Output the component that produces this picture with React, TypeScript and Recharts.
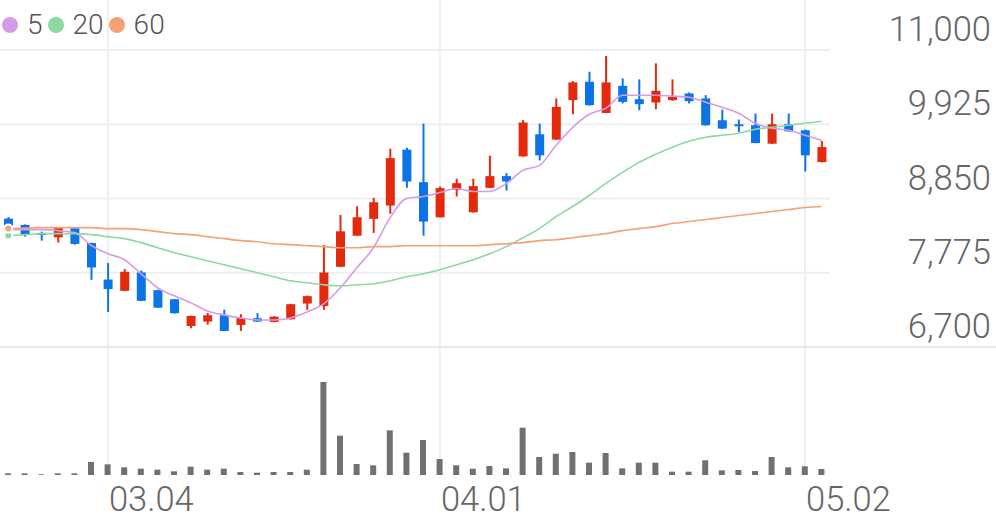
import { Bar, ComposedChart, Line, ReferenceLine, XAxis, YAxis } from 'recharts';

const dates = [
  '02.21', '02.24', '02.25', '02.26', '02.27', '02.28', '03.04', '03.05', '03.06', '03.07',
  '03.10', '03.11', '03.12', '03.13', '03.14', '03.17', '03.18', '03.19', '03.20', '03.21',
  '03.24', '03.25', '03.26', '03.27', '03.28', '03.31', '04.01', '04.02', '04.03', '04.04',
  '04.07', '04.08', '04.09', '04.10', '04.11', '04.14', '04.15', '04.16', '04.17', '04.18',
  '04.21', '04.22', '04.23', '04.24', '04.25', '04.28', '04.29', '04.30', '05.02', '05.07',
];

const opens = [
  8559, 8467, 8352, 8288, 8419, 8206, 7677, 7513, 7779, 7523,
  7392, 7005, 7068, 7160, 7020, 7117, 7063, 7102, 7329, 7295,
  7862, 8312, 8555, 8748, 9557, 9087, 8578, 8976, 8651, 9005,
  9174, 9460, 9780, 9703, 10274, 10540, 10089, 10481, 10288, 10240,
  10274, 10371, 10298, 9983, 9925, 9910, 9644, 9925, 9838, 9378,
];
const highs = [
  8581, 8475, 8370, 8428, 8424, 8211, 7915, 7828, 7808, 7530,
  7395, 7155, 7193, 7242, 7175, 7190, 7145, 7325, 7445, 8177,
  8613, 8738, 8860, 9572, 9586, 9935, 9024, 9136, 9136, 9470,
  9217, 9985, 9935, 10300, 10550, 10685, 10913, 10589, 10574, 10807,
  10574, 10385, 10346, 10138, 9993, 10080, 10080, 10080, 9848, 9682,
];
const lows = [
  8400, 8298, 8240, 8211, 8182, 7673, 7208, 7510, 7365, 7265,
  7185, 6971, 7023, 6930, 6932, 7063, 7058, 7098, 7237, 7237,
  7858, 8308, 8352, 8628, 9005, 8312, 8575, 8879, 8645, 9000,
  8966, 9455, 9402, 9695, 10070, 10195, 10085, 10226, 10128, 10143,
  10264, 10226, 9905, 9857, 9813, 9650, 9640, 9818, 9242, 9372,
];
const closes = [
  8458, 8327, 8323, 8424, 8192, 7852, 7538, 7789, 7368, 7270,
  7189, 7150, 7160, 6932, 7117, 7068, 7140, 7320, 7436, 7779,
  8375, 8578, 8796, 9435, 9097, 8516, 9000, 9072, 9029, 9174,
  9097, 9950, 9475, 10176, 10531, 10201, 10531, 10249, 10216, 10409,
  10322, 10259, 9910, 9862, 9896, 9653, 9925, 9823, 9475, 9595,
];
const volumes = [
  5, 5, 2, 5, 5, 39, 32, 23, 19, 16,
  11, 25, 16, 19, 9, 7, 9, 9, 16, 279,
  118, 33, 29, 134, 67, 105, 48, 29, 19, 27,
  20, 142, 54, 64, 69, 37, 66, 20, 37, 37,
  10, 10, 44, 14, 15, 12, 54, 23, 26, 18,
];
const ma5 = [
  8400, 8400, 8400, 8385, 8356, 8170, 8051, 7964, 7760, 7557,
  7441, 7339, 7223, 7165, 7121, 7092, 7092, 7121, 7208, 7325,
  7557, 7848, 8138, 8574, 8850, 8879, 8937, 8995, 8952, 8952,
  9068, 9257, 9329, 9620, 9881, 10070, 10157, 10346, 10346, 10346,
  10332, 10317, 10245, 10172, 10085, 9940, 9867, 9838, 9765, 9693,
];
const ma20 = [
  8313, 8327, 8342, 8342, 8342, 8327, 8298, 8269, 8211, 8138,
  8066, 8007, 7949, 7891, 7833, 7775, 7717, 7659, 7630, 7601,
  7586, 7601, 7615, 7659, 7717, 7760, 7819, 7891, 7964, 8051,
  8153, 8283, 8414, 8589, 8734, 8894, 9068, 9228, 9373, 9489,
  9591, 9678, 9736, 9765, 9794, 9852, 9881, 9910, 9940, 9969,
];
const ma60 = [
  8414, 8421, 8429, 8429, 8429, 8429, 8414, 8414, 8400, 8371,
  8342, 8327, 8298, 8269, 8240, 8225, 8196, 8182, 8167, 8153,
  8138, 8138, 8153, 8153, 8167, 8167, 8167, 8167, 8167, 8182,
  8196, 8211, 8240, 8254, 8283, 8313, 8342, 8385, 8414, 8443,
  8487, 8516, 8545, 8574, 8603, 8632, 8661, 8690, 8719, 8734,
];

const priceTicks = [6700, 7775, 8850, 9925, 11000];
const dateTicks = ['03.04', '04.01', '05.02'];
const priceDomain = [4847, 11724];

const maSeries = [
  { key: 'ma5', label: '5', color: '#d69be8' },
  { key: 'ma20', label: '20', color: '#8cd9a1' },
  { key: 'ma60', label: '60', color: '#f5a178' },
];

const RED = '#e32a0c';
const BLUE = '#0b74e6';
const GRID = '#efefef';
const TEXT = '#666';
const FONT = 'Roboto, sans-serif';
const W = 996;
const H = 519;
const AXIS_W = 166;
const AXIS_H = 44;

const data = dates.map((date, i) => ({
  date,
  open: opens[i],
  high: highs[i],
  low: lows[i],
  close: closes[i],
  volume: volumes[i],
  ma5: ma5[i],
  ma20: ma20[i],
  ma60: ma60[i],
}));

// candle drawn inside the [low, high] range bar, open/close placed on the same scale
const Candle = (props: any) => {
  const { x, y, width, height, payload } = props;
  const { open, close, high, low } = payload;
  const top = Math.min(y, y + height);
  const h = Math.abs(height);
  const k = h / (high - low);
  const yOf = (v: number) => top + (high - v) * k;
  const color = close >= open ? RED : BLUE;
  const cx = x + width / 2;
  const bodyTop = yOf(Math.max(open, close));
  const bodyH = Math.max(2, Math.abs(yOf(open) - yOf(close)));
  return (
    <g>
      <line x1={cx} x2={cx} y1={top} y2={top + h} stroke={color} strokeWidth={2} />
      <rect x={x} y={bodyTop} width={width} height={bodyH} fill={color} />
    </g>
  );
};

const PriceTick = (props: any) => {
  const { y, payload } = props;
  return (
    <g>
      {payload.value === 6700 && <line x1={0} x2={W} y1={y} y2={y} stroke="#e8e8e8" strokeWidth={2} />}
      <text x={991} y={y - 9} textAnchor="end" fontSize={34.5} fontWeight={300} fill={TEXT} fontFamily={FONT}>
        {payload.value.toLocaleString('en-US')}
      </text>
    </g>
  );
};

const BaseTick = (props: any) => (
  <line x1={0} x2={W} y1={props.y} y2={props.y} stroke="#e0e0e0" strokeWidth={2} />
);

const DateTick = (props: any) => {
  const { x, payload } = props;
  return (
    <text x={x + 1} y={511} textAnchor="start" fontSize={34.5} fontWeight={300} fill={TEXT} fontFamily={FONT}>
      {payload.value}
    </text>
  );
};

const layer: React.CSSProperties = { position: 'absolute', top: 0, left: 0 };
const innerMargin = { top: 0, right: AXIS_W, bottom: AXIS_H, left: 0 };

export default function App() {
  return (
    <div style={{ position: 'relative', width: W, height: H }}>
      <style>{'body{margin:0}'}</style>

      {/* grid + axes */}
      <div style={layer}>
        <ComposedChart width={W} height={H} data={data} margin={{ top: 0, right: 0, bottom: 0, left: 0 }}>
          <XAxis
            dataKey="date"
            scale="band"
            ticks={dateTicks}
            interval={0}
            height={AXIS_H}
            axisLine={false}
            tickLine={false}
            tick={<DateTick />}
          />
          <YAxis
            yAxisId="price"
            orientation="right"
            width={AXIS_W}
            domain={priceDomain}
            ticks={priceTicks}
            allowDataOverflow
            axisLine={false}
            tickLine={false}
            tick={<PriceTick />}
          />
          {priceTicks
            .filter((v) => v !== 6700)
            .map((v) => (
              <ReferenceLine key={v} yAxisId="price" y={v} stroke={GRID} strokeWidth={2} />
            ))}
          {dateTicks.map((d) => (
            <ReferenceLine key={d} yAxisId="price" x={d} stroke={GRID} strokeWidth={2} />
          ))}
        </ComposedChart>
      </div>

      {/* volume */}
      <div style={layer}>
        <ComposedChart width={W} height={H} data={data} margin={innerMargin}>
          <XAxis dataKey="date" hide />
          <YAxis
            yAxisId="vol"
            width={0}
            domain={[0, 1425]}
            ticks={[0]}
            allowDataOverflow
            axisLine={false}
            tickLine={false}
            tick={<BaseTick />}
          />
          <Bar yAxisId="vol" dataKey="volume" fill="#707070" barSize={6} isAnimationActive={false} />
        </ComposedChart>
      </div>

      {/* price: moving averages + candles */}
      <div style={layer}>
        <ComposedChart width={W} height={H} data={data} margin={innerMargin}>
          <XAxis dataKey="date" hide />
          <YAxis yAxisId="price" hide domain={priceDomain} allowDataOverflow />
          {maSeries.map((s) => (
            <Line
              key={s.key}
              yAxisId="price"
              type="monotone"
              dataKey={s.key}
              stroke={s.color}
              strokeWidth={1.6}
              dot={false}
              isAnimationActive={false}
            />
          ))}
          <Bar
            yAxisId="price"
            dataKey={(d: any) => [d.low, d.high]}
            barSize={9}
            shape={<Candle />}
            isAnimationActive={false}
          />
        </ComposedChart>
      </div>

      <div
        style={{
          position: 'absolute',
          top: 9,
          left: 2,
          display: 'flex',
          alignItems: 'center',
          fontFamily: FONT,
          fontSize: 28,
          fontWeight: 300,
          color: '#555',
          lineHeight: '32px',
        }}
      >
        {maSeries.map((s) => (
          <span key={s.key} style={{ display: 'flex', alignItems: 'center', marginRight: 5 }}>
            <span
              style={{ width: 16, height: 16, borderRadius: 8, background: s.color, display: 'inline-block', marginRight: 9 }}
            />
            {s.label}
          </span>
        ))}
      </div>
    </div>
  );
}
